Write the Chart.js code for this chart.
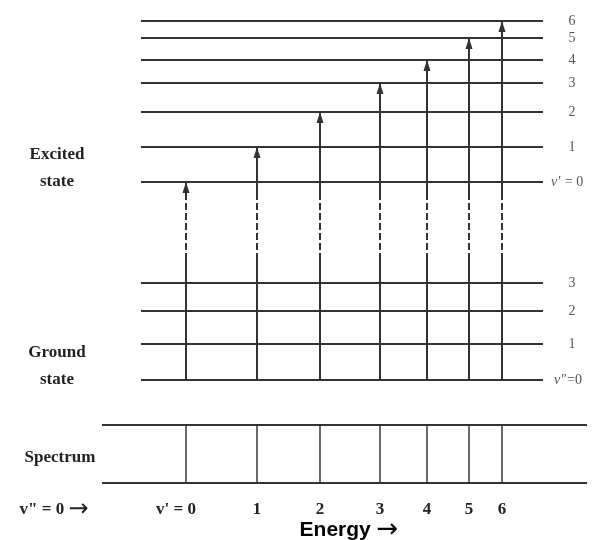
<!DOCTYPE html>
<html>
<head>
<meta charset="utf-8">
<script src="https://cdn.jsdelivr.net/npm/chart.js@4"></script>
<style>
  body { margin: 0; background: #fff; }
  #wrap { width: 595px; height: 540px; }
</style>
</head>
<body>
<div id="wrap"><canvas id="chart" width="595" height="540"></canvas></div>
<script>
// energies (arbitrary units, up = higher energy)
const excitedLevels = [358, 393, 428, 457, 480, 502, 519];
const groundLevels = [160, 196, 229, 257];
const bandLines = [186, 257, 320, 380, 427, 469, 502];

const excitedLabels = ['0', '1', '2', '3', '4', '5', '6'];
const groundLabels = ['0', '1', '2', '3'];
const bandLabels = ["v' = 0", '1', '2', '3', '4', '5', '6'];

// layout of the drawing (same units as the scales)
const levelFrom = 141, levelTo = 543;
const stripFrom = 102, stripTo = 587;
const stripTop = 115, stripBottom = 57;
const dashLow = 280, dashHigh = 340;

const ink = '#333';
const serif = '"Liberation Serif", "DejaVu Serif", serif';

const datasets = [];

const hLine = (y, x0, x1, w) => {
    datasets.push({
        data: [{x: x0, y: y}, {x: x1, y: y}],
        borderColor: ink,
        borderWidth: w,
        pointRadius: 0,
        showLine: true
    });
};

excitedLevels.forEach(e => hLine(e, levelFrom, levelTo, 2));
groundLevels.forEach(e => hLine(e, levelFrom, levelTo, 2));
hLine(stripTop, stripFrom, stripTo, 2);
hLine(stripBottom, stripFrom, stripTo, 2);

// spectrum lines
bandLines.forEach(x => {
    datasets.push({
        data: [{x: x, y: stripBottom}, {x: x, y: stripTop}],
        borderColor: '#444',
        borderWidth: 1.6,
        pointRadius: 0,
        showLine: true
    });
});

// absorption arrows v''=0 -> v'
bandLines.forEach((x, i) => {
    datasets.push({
        arrow: true,
        data: [
            {x: x, y: groundLevels[0]},
            {x: x, y: dashLow},
            {x: x, y: dashHigh},
            {x: x, y: excitedLevels[i]}
        ],
        borderColor: ink,
        borderWidth: 2,
        pointRadius: 0,
        showLine: true,
        segment: {
            borderDash: c => (c.p0DataIndex === 1 ? [7, 3] : undefined)
        }
    });
});

const arrowHeads = {
    id: 'arrowHeads',
    afterDatasetsDraw(chart) {
        const c = chart.ctx;
        chart.data.datasets.forEach((ds, i) => {
            if (!ds.arrow) return;
            const pts = chart.getDatasetMeta(i).data;
            const tip = pts[pts.length - 1];
            c.save();
            c.fillStyle = ink;
            c.beginPath();
            c.moveTo(tip.x, tip.y);
            c.lineTo(tip.x - 3.5, tip.y + 11);
            c.lineTo(tip.x + 3.5, tip.y + 11);
            c.closePath();
            c.fill();
            c.restore();
        });
    }
};

// text then a long arrow glyph, centred as a whole at cx
const withArrow = (c, txt, cx, y, font, arrowFont) => {
    c.font = font;
    const w1 = c.measureText(txt).width;
    c.font = arrowFont;
    const w2 = c.measureText('\u2192').width;
    const x0 = cx - (w1 + w2) / 2;
    c.textAlign = 'left';
    c.font = font;
    c.fillText(txt, x0, y);
    c.font = arrowFont;
    c.fillText('\u2192', x0 + w1, y);
    c.textAlign = 'center';
};

const texts = {
    id: 'texts',
    afterDraw(chart) {
        const c = chart.ctx;
        const xs = chart.scales.x, ys = chart.scales.y;
        c.save();
        c.textBaseline = 'middle';

        // left captions
        c.fillStyle = '#222';
        c.textAlign = 'center';
        c.font = 'bold 17px ' + serif;
        c.fillText('Excited', 57, 155);
        c.fillText('state', 57, 182);
        c.fillText('Ground', 57, 353);
        c.fillText('state', 57, 380);
        c.fillText('Spectrum', 60, 458);

        // right level numbers
        c.fillStyle = '#555';
        c.font = '14px ' + serif;
        const levelLabel = (val, txt, dbl) => {
            const y = ys.getPixelForValue(val);
            if (txt === '0') {
                c.textAlign = 'left';
                c.font = 'italic 14px ' + serif;
                const v = dbl ? 'v″' : 'v′';
                c.fillText(v, dbl ? 554 : 551, y);
                const w = c.measureText(v).width;
                c.font = '14px ' + serif;
                c.fillText(dbl ? '=0' : ' = 0', (dbl ? 554 : 551) + w + 1, y);
            } else {
                c.textAlign = 'center';
                c.fillText(txt, 572, y);
            }
        };
        excitedLevels.forEach((e, i) => levelLabel(e, excitedLabels[i], false));
        groundLevels.forEach((e, i) => levelLabel(e, groundLabels[i], true));

        // spectrum labels
        c.fillStyle = '#222';
        c.font = 'bold 17px ' + serif;
        c.textAlign = 'center';
        const yl = ys.getPixelForValue(30);
        bandLines.forEach((x, i) => {
            const px = xs.getPixelForValue(x) + (i === 0 ? -10 : 0);
            c.fillText(bandLabels[i], px, yl);
        });
        withArrow(c, 'v" = 0 ', 54, yl, 'bold 17px ' + serif, '24px "DejaVu Sans", sans-serif');

        c.fillStyle = '#000';
        withArrow(c, 'Energy ', 349, ys.getPixelForValue(10),
            'bold 21px "Liberation Sans", Arial, sans-serif', '26px "DejaVu Sans", sans-serif');
        c.restore();
    }
};

new Chart(document.getElementById('chart'), {
    type: 'scatter',
    data: { datasets: datasets },
    options: {
        responsive: false,
        animation: false,
        devicePixelRatio: 1,
        layout: { padding: 0 },
        plugins: {
            legend: { display: false },
            tooltip: { enabled: false }
        },
        scales: {
            x: { type: 'linear', min: 0, max: 595, display: false },
            y: { type: 'linear', min: 0, max: 540, display: false }
        }
    },
    plugins: [arrowHeads, texts]
});
</script>
</body>
</html>
